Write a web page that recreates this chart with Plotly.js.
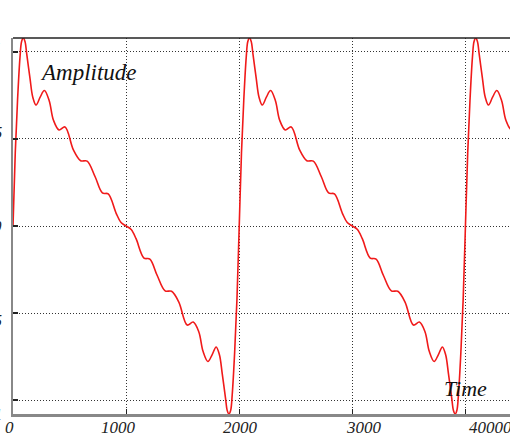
<!DOCTYPE html>
<html>
<head>
<meta charset="utf-8">
<script src="https://cdn.plot.ly/plotly-3.0.1.min.js"></script>
<style>
  html, body { margin: 0; padding: 0; background: #fff; overflow: hidden; }
  #chart { width: 530px; height: 436px; }
</style>
</head>
<body>
<div id="chart"></div>
<script>
// ---- data ----
const time = [
  0, 20, 40, 62, 76, 91, 106, 121, 150, 175, 204, 240, 277, 320, 357, 407, 460, 534, 598, 655, 726, 790, 842, 912, 955,
  1000, 1045, 1088, 1158, 1210, 1274, 1345, 1402, 1466, 1540, 1593, 1643, 1680, 1723, 1760, 1796, 1825, 1850, 1879, 1894, 1909, 1924, 1938, 1960, 1980,
  2000, 2020, 2040, 2062, 2076, 2091, 2106, 2121, 2150, 2175, 2204, 2240, 2277, 2320, 2357, 2407, 2460, 2534, 2598, 2655, 2726, 2790, 2842, 2912, 2955,
  3000, 3045, 3088, 3158, 3210, 3274, 3345, 3402, 3466, 3540, 3593, 3643, 3680, 3723, 3760, 3796, 3825, 3850, 3879, 3894, 3909, 3924, 3938, 3960, 3980,
  4000, 4020, 4040, 4062, 4076, 4091, 4106, 4121, 4150, 4175, 4204, 4240, 4277, 4320, 4357, 4407, 4460, 4534
];
const amplitude = [
  0, 0.42, 0.72, 0.97, 1.06, 1.08, 1.06, 0.99, 0.85, 0.74, 0.695, 0.74, 0.778, 0.72, 0.609, 0.552, 0.569, 0.437, 0.375, 0.373, 0.283, 0.190, 0.184, 0.073, 0.02,
  0, -0.02, -0.073, -0.184, -0.190, -0.283, -0.373, -0.375, -0.437, -0.569, -0.552, -0.609, -0.72, -0.778, -0.74, -0.695, -0.74, -0.85, -0.99, -1.06, -1.08, -1.06, -0.97, -0.72, -0.42,
  0, 0.42, 0.72, 0.97, 1.06, 1.08, 1.06, 0.99, 0.85, 0.74, 0.695, 0.74, 0.778, 0.72, 0.609, 0.552, 0.569, 0.437, 0.375, 0.373, 0.283, 0.190, 0.184, 0.073, 0.02,
  0, -0.02, -0.073, -0.184, -0.190, -0.283, -0.373, -0.375, -0.437, -0.569, -0.552, -0.609, -0.72, -0.778, -0.74, -0.695, -0.74, -0.85, -0.99, -1.06, -1.08, -1.06, -0.97, -0.72, -0.42,
  0, 0.42, 0.72, 0.97, 1.06, 1.08, 1.06, 0.99, 0.85, 0.74, 0.695, 0.74, 0.778, 0.72, 0.609, 0.552, 0.569, 0.437
];
const xTickValues = [1000, 2000, 3000, 4000];
const xTickLabels = ["0", "1000", "2000", "3000", "40000"];
const yTickValues = [-1, -0.5, 0, 0.5, 1];
const yTickLabels = ["-1", "-0.5", "0", "0.5", "1"];
const yAxisTitle = "Amplitude";
const xAxisTitle = "Time";

// ---- layout placement (not data) ----
const xRange = [0, 4500];
const xLabelPos = [-35, 933, 2007, 3099, 4220];
const labelFont = { family: "Liberation Serif, serif", size: 17, color: "#222", style: "italic" };
const titleFont = { family: "Liberation Serif, serif", size: 23, color: "#111", style: "italic" };

const annotations = [];
xTickLabels.forEach((t, i) => annotations.push({
  text: t, x: (xLabelPos[i] - xRange[0]) / (xRange[1] - xRange[0]), xref: "paper", y: -0.037, yref: "paper",
  xanchor: "center", yanchor: "middle", showarrow: false, font: labelFont
}));
yTickLabels.forEach((t, i) => annotations.push({
  text: t, x: -0.018, xref: "paper", y: (yTickValues[i] + 1) / 2, yref: "paper",
  xanchor: "right", yanchor: "middle", showarrow: false, font: labelFont
}));
annotations.push({ text: yAxisTitle, x: 0.05, xref: "paper", y: 0.907, yref: "paper",
  xanchor: "left", yanchor: "middle", showarrow: false, font: titleFont });
annotations.push({ text: xAxisTitle, x: 0.842, xref: "paper", y: 0.069, yref: "paper",
  xanchor: "left", yanchor: "middle", showarrow: false, font: { ...titleFont, size: 22 } });

const trace = {
  x: time, y: amplitude, type: "scatter", mode: "lines",
  line: { color: "#f01a1a", width: 1.6, shape: "spline", smoothing: 1 },
  hoverinfo: "skip"
};

const gridStyle = { showgrid: true, gridcolor: "#333", griddash: "1px,2px", gridwidth: 1 };

const layout = {
  width: 530, height: 436,
  margin: { l: 13, r: 8, t: 38, b: 22, pad: 0 },
  paper_bgcolor: "#fff", plot_bgcolor: "#fff",
  showlegend: false,
  xaxis: Object.assign({
    range: xRange, tickvals: xTickValues, showticklabels: false,
    zeroline: false, showline: true, linecolor: "#888", linewidth: 3,
    ticks: "inside", ticklen: 5, tickcolor: "#222", tickwidth: 1.2
  }, gridStyle),
  yaxis: Object.assign({
    range: [-1.08, 1.08], tickvals: yTickValues, showticklabels: false,
    zeroline: false, showline: true, linecolor: "#888", linewidth: 2,
    ticks: "inside", ticklen: 5, tickcolor: "#222", tickwidth: 1.2
  }, gridStyle),
  shapes: [{ type: "line", xref: "paper", yref: "paper", x0: 0, x1: 1, y0: 1, y1: 1,
    line: { color: "#222", width: 1.5 } }],
  annotations: annotations
};

Plotly.newPlot("chart", [trace], layout, { displayModeBar: false, staticPlot: true });
</script>
</body>
</html>
